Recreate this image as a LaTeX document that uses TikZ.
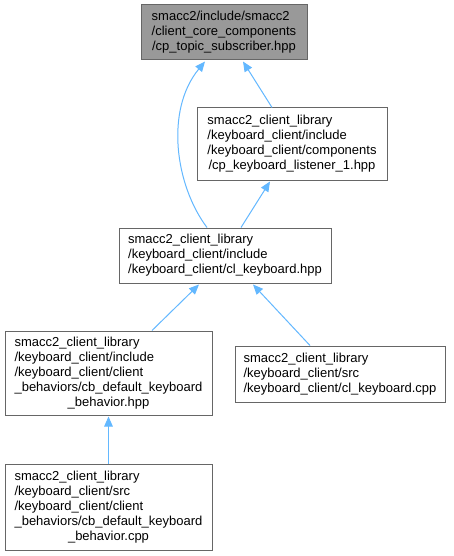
\documentclass[tikz,border=0pt]{standalone}
\usepackage{fontspec}
\setmainfont{Liberation Sans}
\usetikzlibrary{arrows.meta}
\definecolor{edgeblue}{HTML}{63B8FF}
\definecolor{boxline}{HTML}{666666}
\definecolor{topfill}{HTML}{999999}
\newcommand{\lbl}[2]{\begin{tabular}{@{}l@{}}#1\\\multicolumn{1}{@{}c@{}}{#2}\end{tabular}}
\begin{document}
\begin{tikzpicture}[x=1pt,y=-1pt,
  filebox/.style={draw=boxline,line width=1pt,fill=white,rectangle,inner sep=0pt,
    font=\fontsize{13}{15}\selectfont,text=black},
  edge/.style={draw=edgeblue,line width=1pt,-{Triangle[length=10pt,width=8.5pt]}}]
\useasboundingbox (0,0) rectangle (454,556);
\fill[white] (0,0) rectangle (454,556);
\node[filebox,fill=topfill,minimum width=166pt,minimum height=55pt] (top) at (224,32.5)
  {\lbl{smacc2/include/smacc2\\/client\_core\_components}{/cp\_topic\_subscriber.hpp}};
\node[filebox,minimum width=190pt,minimum height=72pt] (n2) at (292,144)
  {\lbl{smacc2\_client\_library\\/keyboard\_client/include\\/keyboard\_client/components}{/cp\_keyboard\_listener\_1.hpp}};
\node[filebox,minimum width=212pt,minimum height=55pt] (n3) at (225,255.5)
  {\lbl{smacc2\_client\_library\\/keyboard\_client/include}{/keyboard\_client/cl\_keyboard.hpp}};
\node[filebox,minimum width=207pt,minimum height=84pt] (n4) at (108.5,373)
  {\lbl{smacc2\_client\_library\\/keyboard\_client/include\\/keyboard\_client/client\\\_behaviors/cb\_default\_keyboard}{\_behavior.hpp}};
\node[filebox,minimum width=210pt,minimum height=56pt] (n5) at (340,374)
  {\lbl{smacc2\_client\_library\\/keyboard\_client/src}{/keyboard\_client/cl\_keyboard.cpp}};
\node[filebox,minimum width=207pt,minimum height=86pt] (n6) at (108.5,507)
  {\lbl{smacc2\_client\_library\\/keyboard\_client/src\\/keyboard\_client/client\\\_behaviors/cb\_default\_keyboard}{\_behavior.cpp}};
\draw[edge] ([xshift=-20pt]n2.north) -- ([xshift=19pt,yshift=-1pt]top.south);
\draw[edge] ([xshift=-18pt]n3.north) .. controls (175,185) and (165,110) .. ([xshift=-19pt,yshift=-1pt]top.south);
\draw[edge] ([xshift=16pt]n3.north) -- ([xshift=-22pt,yshift=-1pt]n2.south);
\draw[edge] ([xshift=43.5pt]n4.north) -- ([xshift=-26pt,yshift=-1pt]n3.south);
\draw[edge] ([xshift=-30pt]n5.north) -- ([xshift=28pt,yshift=-1pt]n3.south);
\draw[edge] (n6.north) -- ([yshift=-1pt]n4.south);
\end{tikzpicture}
\end{document}
